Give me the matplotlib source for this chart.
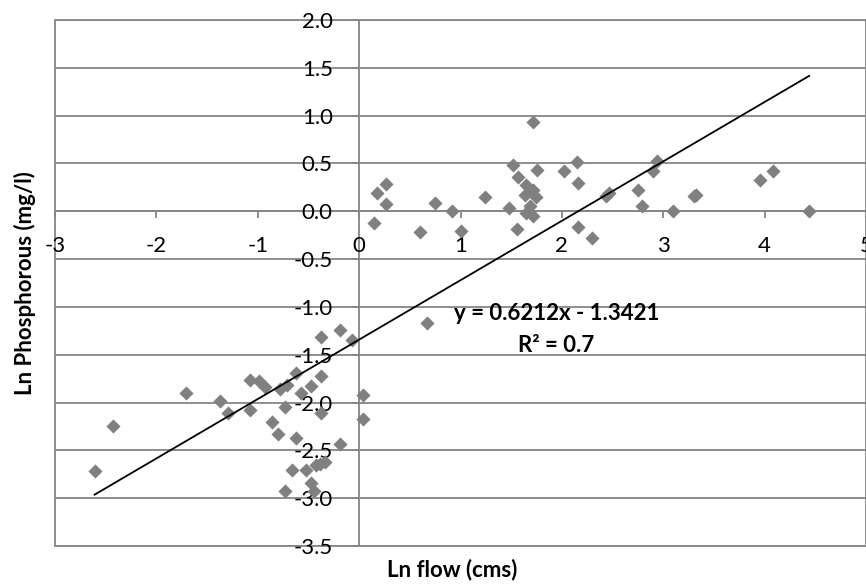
import numpy as np
import matplotlib
matplotlib.use('Agg')
import matplotlib.pyplot as plt
from matplotlib.patches import Rectangle

plt.rcParams['font.family'] = ['Lato', 'DejaVu Sans']

# ln flow (cms) and ln phosphorous (mg/l)
ln_flow = [-2.61, -2.43, -1.71, -1.37, -1.29, -1.08, -1.08, -0.99, -0.93, -0.86,
           -0.80, -0.78, -0.71, -0.73, -0.62, -0.62, -0.57, -0.66, -0.73, -0.52,
           -0.47, -0.45, -0.43, -0.39, -0.34, -0.47, -0.38, -0.38, -0.38, -0.19,
           -0.07, -0.19, 0.04, 0.04, 0.67, 0.15, 0.18, 0.27, 0.27, 0.60,
           0.75, 0.92, 1.00, 1.24, 1.48, 1.52, 1.57, 1.56, 1.65, 1.64,
           1.72, 1.72, 1.75, 1.69, 1.65, 1.72, 1.74, 2.02, 2.15, 2.16,
           2.16, 2.30, 2.46, 2.44, 2.75, 2.79, 2.90, 2.94, 3.10, 3.32,
           3.30, 3.95, 4.08, 4.44]
ln_phos = [-2.72, -2.25, -1.90, -1.98, -2.11, -1.76, -2.08, -1.77, -1.84, -2.20,
           -2.33, -1.86, -1.82, -2.05, -1.69, -2.37, -1.90, -2.71, -2.92, -2.71,
           -2.84, -2.92, -2.65, -2.64, -2.62, -1.83, -1.72, -2.11, -1.31, -1.24,
           -1.35, -2.43, -1.92, -2.17, -1.17, -0.12, 0.19, 0.28, 0.08, -0.22,
           0.09, 0.00, -0.21, 0.15, 0.03, 0.48, 0.36, -0.19, 0.27, 0.17,
           0.22, 0.93, 0.43, 0.06, -0.02, -0.05, 0.15, 0.42, 0.52, 0.30,
           -0.16, -0.28, 0.19, 0.16, 0.22, 0.05, 0.42, 0.53, 0.00, 0.17,
           0.16, 0.33, 0.42, 0.00]

slope = 0.6212
intercept = -1.3421
r2_text = 'R² = 0.7'

xticks = [-3, -2, -1, 0, 1, 2, 3, 4, 5]
yticks = [-3.5, -3.0, -2.5, -2.0, -1.5, -1.0, -0.5, 0.0, 0.5, 1.0, 1.5, 2.0]

W, H = 866, 585
fig = plt.figure(figsize=(W/100, H/100), dpi=100)
ax = fig.add_axes([55/W, (H-546)/H, (W-55)/W, (546-20)/H])

grid_col = '#868686'

ax.set_xlim(-3, 5)
ax.set_ylim(-3.5, 2.0)

# horizontal gridlines
for v in yticks:
    ax.axhline(v, color=grid_col, lw=1.3, zorder=1)

# axes cross at zero like excel
ax.spines['left'].set_position(('data', 0))
ax.spines['bottom'].set_position(('data', 0))
ax.spines['top'].set_visible(False)
ax.spines['right'].set_visible(False)
for s in ['left', 'bottom']:
    ax.spines[s].set_color(grid_col)
    ax.spines[s].set_linewidth(1.3)
    ax.spines[s].set_zorder(1)

# plot area border
ax.add_patch(Rectangle((0, 0), 1, 1, transform=ax.transAxes, fill=False,
                       ec=grid_col, lw=1.3, zorder=1, clip_on=False))

ax.set_xticks(xticks)
ax.set_xticklabels([str(t) for t in xticks])
ax.set_yticks(yticks)
ax.set_yticklabels(['%.1f' % t for t in yticks])
ax.tick_params(axis='x', direction='out', length=5, width=1.3, color=grid_col,
               pad=13, labelsize=16)
ax.tick_params(axis='y', direction='out', length=5, width=1.3, color=grid_col,
               pad=14, labelsize=16)

ax.scatter(ln_flow, ln_phos, marker='D', s=52, color='#808080', zorder=3,
           linewidths=0)

# linear trendline over the data range
xl = np.array([min(ln_flow), max(ln_flow)])
ax.plot(xl, slope*xl + intercept, color='black', lw=1.3, zorder=4)

ax.text(1.945, -1.065, 'y = %.4fx - %.4f' % (slope, abs(intercept)),
        ha='center', va='center', fontsize=16, fontweight='bold', zorder=5)
ax.text(1.945, -1.40, r2_text, ha='center', va='center', fontsize=16,
        fontweight='bold', zorder=5)

fig.text(452/W, 1 - 570/H, 'Ln flow (cms)', ha='center', va='center',
         fontsize=16, fontweight='bold')
fig.text(25/W, 1 - 283/H, 'Ln Phosphorous (mg/l)', ha='center', va='center',
         rotation=90, fontsize=16, fontweight='bold')

fig.savefig('out.png', dpi=100)
